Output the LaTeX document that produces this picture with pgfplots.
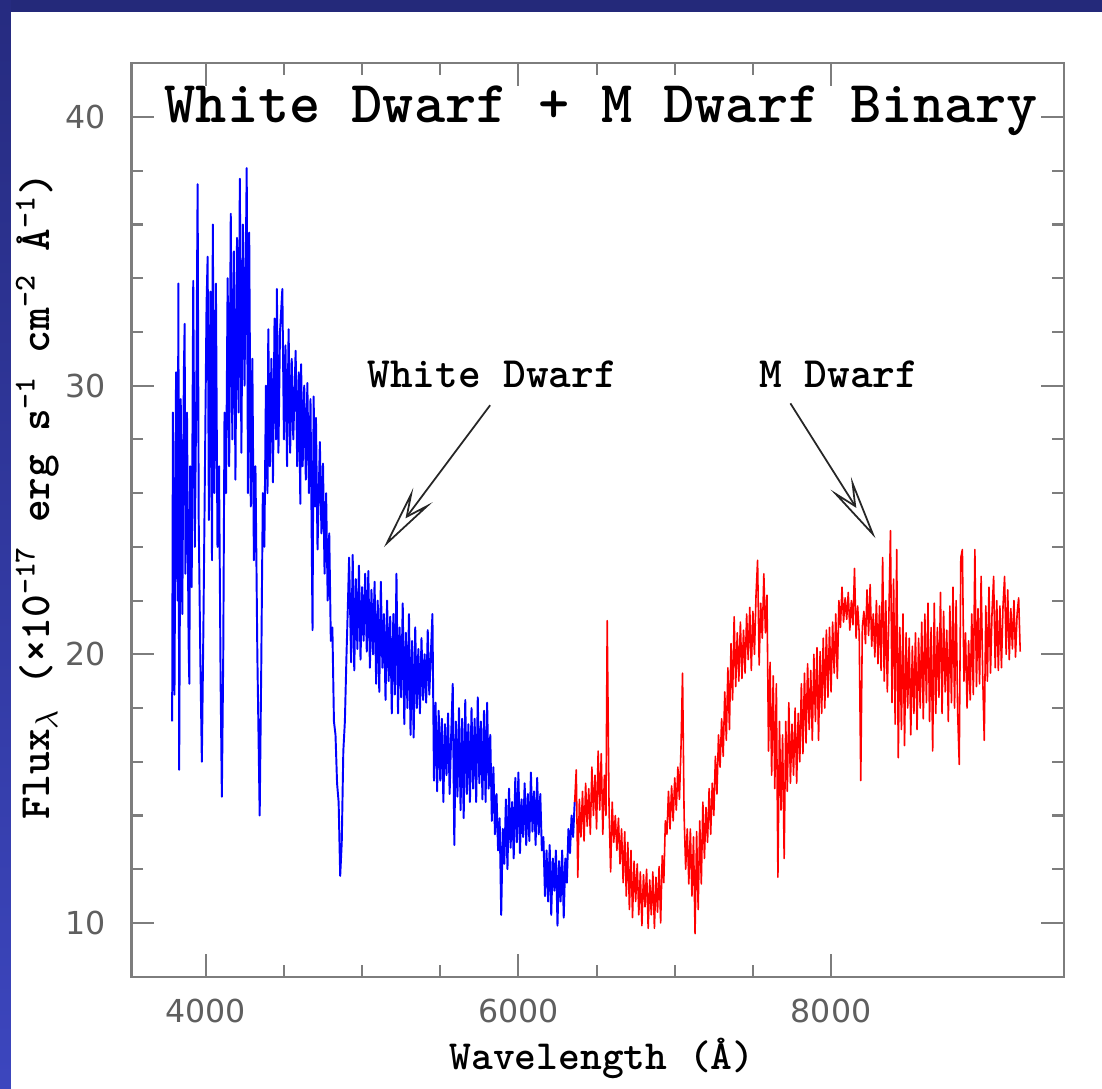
\documentclass[border=0pt]{standalone}
\usepackage{fontspec}
\newfontfamily\tickfont{DejaVu Sans}
\usepackage{pgfplots}
\pgfplotsset{compat=1.18}
\usetikzlibrary{arrows.meta}
\definecolor{framegray}{RGB}{125,125,125}
\definecolor{tickgray}{RGB}{95,95,95}
\definecolor{navy}{RGB}{36,41,122}
\definecolor{slidetop}{RGB}{38,43,128}
\definecolor{slidebot}{RGB}{60,70,190}
\newcommand\lab{\ttfamily\bfseries}

\begin{document}
\begin{tikzpicture}
% slide background
\fill[white] (-1.315,-1.123) rectangle (9.705,9.767);
\fill[navy] (-1.315,9.647) rectangle (9.705,9.767);
\shade[top color=slidetop, bottom color=slidebot] (-1.315,-1.123) rectangle (-1.205,9.767);

\begin{axis}[at={(0,0)}, anchor=south west, scale only axis,
  width=9.325cm, height=9.134cm,
  xmin=3525, xmax=9490, ymin=8, ymax=42,
  axis line style={framegray, line width=0.6pt},
  tick style={framegray, line width=0.6pt},
  major tick length=2.3mm, minor tick length=1.2mm,
  xtick={4000,6000,8000}, minor x tick num=3,
  ytick={10,20,30,40}, minor y tick num=4,
  scaled x ticks=false,
  /pgf/number format/set thousands separator={},
  /pgf/number format/assume math mode=true,
  tick label style={font=\tickfont\fontsize{9}{11}\selectfont, text=tickgray},
  xticklabel style={yshift=-0.95mm},
  yticklabel style={xshift=-1.3mm}]

% white dwarf part
\addplot[blue, line width=0.55pt, line join=round] coordinates {
(3785,17.5)(3790,29.0)(3800,18.5)(3810,30.5)(3820,22.0)(3825,33.8)(3830,15.7)(3840,29.5)(3850,21.5)(3860,30.5)
(3865,32.3)(3870,23.0)(3880,29.0)(3890,20.5)(3895,18.9)(3900,27.0)(3910,22.5)(3920,33.9)(3930,24.0)(3940,30.0)
(3948,37.5)(3955,25.0)(3965,20.0)(3975,16.0)(3985,21.0)(3995,27.0)(4005,33.0)(4012,34.8)(4020,25.0)(4030,33.5)
(4040,23.5)(4045,36.0)(4055,26.0)(4065,33.8)(4075,24.0)(4085,27.0)(4095,19.0)(4103,14.7)(4112,20.0)(4120,29.0)
(4130,26.0)(4140,34.0)(4150,27.0)(4160,36.4)(4170,28.0)(4180,35.0)(4190,26.5)(4200,35.5)(4210,29.0)(4218,37.7)
(4228,27.5)(4238,36.0)(4248,30.0)(4262,38.1)(4270,26.0)(4278,35.7)(4288,25.5)(4298,31.0)(4308,23.5)(4318,27.0)
(4330,20.0)(4345,14.0)(4355,19.5)(4365,26.0)(4375,24.0)(4385,30.0)(4395,26.0)(4400,32.1)(4410,27.0)(4420,31.0)
(4430,26.4)(4440,32.5)(4450,28.0)(4455,33.6)(4465,27.5)(4475,32.0)(4490,33.6)(4500,28.0)(4510,31.5)(4520,27.0)
(4530,32.1)(4540,27.5)(4550,31.0)(4560,28.0)(4575,31.3)(4585,27.0)(4595,30.5)(4605,25.6)(4610,30.8)(4620,27.0)
(4630,30.0)(4640,26.5)(4650,30.1)(4660,26.0)(4670,29.5)(4683,20.9)(4690,29.6)(4700,25.5)(4705,28.8)(4715,23.9)
(4730,27.9)(4740,24.5)(4750,27.1)(4760,23.0)(4770,26.0)(4780,22.0)(4790,24.5)(4800,20.5)(4810,21.0)(4820,17.5)
(4830,17.0)(4840,15.2)(4850,14.5)(4860,11.75)(4870,13.0)(4880,16.4)(4890,17.5)(4900,19.9)(4910,22.0)(4917,23.6)
(4930,19.7)(4940,23.7)(4950,19.4)(4960,22.8)(4970,20.2)(4980,23.3)(4990,19.8)(5000,22.5)(5010,20.5)(5020,23.0)
(5030,20.1)(5040,23.1)(5050,19.5)(5060,22.4)(5070,20.0)(5080,22.7)(5090,18.9)(5100,22.0)(5110,18.6)(5120,22.7)
(5130,19.5)(5140,21.5)(5150,18.3)(5160,22.0)(5170,19.0)(5180,21.4)(5190,17.8)(5200,21.5)(5210,18.5)(5220,23.0)
(5230,17.8)(5240,21.0)(5250,18.4)(5260,21.9)(5270,17.4)(5280,20.8)(5290,18.0)(5300,21.5)(5310,17.0)(5320,20.5)
(5330,16.9)(5340,21.0)(5350,18.0)(5360,20.2)(5370,17.8)(5380,20.6)(5390,18.3)(5400,20.0)(5410,18.2)(5420,20.9)
(5430,18.5)(5440,20.0)(5450,21.5)(5460,15.3)(5470,18.2)(5480,14.9)(5490,17.9)(5500,15.3)(5510,17.6)(5520,14.5)
(5530,17.4)(5540,15.5)(5550,17.8)(5560,14.8)(5570,17.0)(5580,18.9)(5590,12.9)(5600,17.5)(5610,14.7)(5620,18.0)
(5630,14.2)(5640,17.6)(5650,13.9)(5660,18.3)(5670,14.8)(5680,17.4)(5690,14.5)(5700,18.0)(5710,15.0)(5720,17.6)
(5730,14.5)(5740,18.4)(5750,15.2)(5760,17.5)(5770,14.6)(5780,17.9)(5790,14.5)(5800,18.2)(5810,15.0)(5820,17.0)
(5830,13.8)(5840,15.8)(5850,13.3)(5860,14.8)(5870,12.7)(5880,13.9)(5890,10.3)(5900,13.5)(5910,12.2)(5920,14.6)
(5930,12.0)(5940,15.0)(5950,12.8)(5960,14.5)(5970,12.4)(5980,15.4)(5990,13.0)(6000,15.6)(6010,12.6)(6020,14.6)
(6030,13.2)(6040,15.2)(6050,12.9)(6060,14.8)(6070,13.05)(6080,15.6)(6090,13.4)(6100,14.9)(6110,12.9)(6120,15.4)
(6130,13.3)(6140,14.8)(6150,12.7)(6160,13.2)(6170,11.0)(6180,12.7)(6190,10.8)(6200,12.9)(6210,10.3)(6220,12.4)
(6230,11.2)(6240,12.7)(6250,9.9)(6260,12.3)(6270,10.8)(6280,12.7)(6290,10.2)(6300,12.4)(6310,11.5)(6320,13.5)
(6330,12.6)(6340,14.0)(6350,13.2)(6360,14.5)
};

% M dwarf part
\addplot[red, line width=0.45pt, line join=round] coordinates {
(6360,14.5)(6370,15.7)(6380,11.7)(6390,14.6)(6400,13.2)(6410,14.9)(6420,13.05)(6430,15.2)(6440,13.6)(6450,15.0)
(6460,13.3)(6470,15.8)(6480,14.0)(6490,15.5)(6500,13.5)(6510,16.4)(6520,14.2)(6530,16.3)(6540,13.3)(6550,15.5)
(6560,14.0)(6568,21.25)(6580,14.2)(6590,11.9)(6600,14.5)(6610,13.0)(6620,14.0)(6630,12.7)(6640,13.9)(6650,12.2)
(6660,13.5)(6670,11.5)(6680,13.4)(6690,11.0)(6700,13.0)(6710,10.5)(6720,12.7)(6730,10.2)(6740,12.3)(6750,10.8)
(6760,12.2)(6770,10.3)(6780,11.9)(6790,9.9)(6800,11.8)(6810,10.6)(6820,12.0)(6830,9.8)(6840,11.6)(6850,10.3)
(6860,11.9)(6870,9.8)(6880,11.7)(6890,10.4)(6900,12.1)(6910,10.0)(6920,12.5)(6930,11.5)(6940,13.8)(6950,13.3)
(6960,14.9)(6970,13.5)(6980,15.1)(6990,13.8)(7000,15.4)(7010,14.2)(7020,15.8)(7030,14.6)(7040,16.5)(7050,19.3)
(7060,14.0)(7070,12.0)(7080,13.5)(7090,11.45)(7100,13.5)(7110,11.0)(7120,13.2)(7130,9.6)(7140,13.4)(7150,10.5)
(7160,13.8)(7170,11.45)(7180,14.5)(7190,12.4)(7200,14.3)(7210,13.0)(7220,15.0)(7230,13.3)(7240,15.2)(7250,14.0)
(7260,16.2)(7270,14.8)(7280,17.0)(7290,15.8)(7300,17.6)(7310,16.2)(7320,18.6)(7330,16.8)(7340,19.5)(7350,17.2)
(7360,20.4)(7370,18.3)(7380,21.4)(7390,18.8)(7400,20.8)(7410,19.0)(7420,21.2)(7430,19.1)(7440,20.9)(7450,19.3)
(7460,21.5)(7470,19.8)(7480,21.75)(7490,19.4)(7500,21.6)(7510,20.0)(7520,22.2)(7530,23.5)(7540,19.6)(7550,21.9)
(7560,20.6)(7570,23.0)(7580,20.8)(7590,22.2)(7600,16.4)(7610,19.7)(7620,15.5)(7630,19.2)(7640,15.0)(7650,18.9)
(7660,11.7)(7670,17.5)(7680,14.2)(7690,17.0)(7700,12.4)(7710,17.5)(7720,14.9)(7730,18.2)(7740,15.2)(7750,17.4)
(7760,15.5)(7770,18.0)(7780,15.2)(7790,17.8)(7800,16.0)(7810,18.9)(7820,16.3)(7830,19.3)(7840,16.7)(7850,19.65)
(7860,17.2)(7870,19.4)(7880,16.8)(7890,20.0)(7900,17.5)(7910,20.25)(7920,16.8)(7930,20.1)(7940,17.8)(7950,20.6)
(7960,18.0)(7970,20.9)(7980,18.4)(7990,21.0)(8000,18.6)(8010,21.2)(8020,19.3)(8030,21.5)(8040,19.1)(8050,22.0)
(8060,21.0)(8070,22.5)(8080,21.2)(8090,22.1)(8100,21.3)(8110,22.3)(8120,20.9)(8130,22.0)(8140,21.1)(8150,23.2)
(8160,20.6)(8170,21.8)(8180,20.8)(8190,15.3)(8200,21.0)(8210,21.6)(8220,20.4)(8230,22.4)(8240,20.7)(8250,22.6)
(8260,20.3)(8270,21.5)(8280,19.9)(8290,22.0)(8300,19.65)(8310,21.8)(8320,19.4)(8330,23.6)(8340,19.0)(8350,22.0)
(8360,18.6)(8370,21.5)(8380,24.6)(8390,18.2)(8400,22.8)(8410,17.4)(8420,23.9)(8430,16.15)(8440,21.0)(8450,17.2)
(8460,21.5)(8470,16.6)(8480,20.8)(8490,18.0)(8500,20.6)(8510,17.0)(8520,20.3)(8530,17.8)(8540,20.8)(8550,17.2)
(8560,20.6)(8570,18.0)(8580,21.2)(8590,17.6)(8600,21.5)(8610,18.2)(8620,21.9)(8630,17.5)(8640,21.0)(8650,16.4)
(8660,21.9)(8670,17.8)(8680,21.0)(8690,18.4)(8700,22.3)(8710,17.8)(8720,21.6)(8730,18.6)(8740,20.9)(8750,17.5)
(8760,21.8)(8770,18.2)(8780,22.5)(8790,18.0)(8800,22.0)(8810,17.8)(8820,15.9)(8830,23.6)(8840,23.9)(8850,19.0)
(8860,20.8)(8870,18.0)(8880,20.5)(8890,18.3)(8900,21.5)(8910,18.5)(8920,23.9)(8930,18.8)(8940,21.7)(8950,18.9)
(8960,22.9)(8970,19.2)(8980,16.8)(8990,21.8)(9000,19.0)(9010,22.5)(9020,19.3)(9030,21.6)(9040,22.9)(9050,19.5)
(9060,22.0)(9070,19.4)(9080,21.8)(9090,19.5)(9100,21.8)(9110,22.9)(9120,20.0)(9130,22.4)(9140,19.8)(9150,21.7)
(9160,20.2)(9170,22.0)(9180,19.9)(9190,21.5)(9200,22.1)(9210,20.1)
};

\node[anchor=base, font=\fontsize{16.9}{19}\selectfont\lab] at (axis cs:6530,39.81) {White Dwarf + M Dwarf Binary};
\node[anchor=base, font=\fontsize{12.3}{14}\selectfont\lab] at (axis cs:5832,29.94) {White Dwarf};
\node[anchor=base, font=\fontsize{12.3}{14}\selectfont\lab] at (axis cs:8050,29.94) {M Dwarf};
\draw[black!85, line width=0.5pt, -{Stealth[open, length=6.5mm, width=2.4mm, inset=2.5mm]}]
  (axis cs:5819,29.27) -- (axis cs:5140,23.99);
\draw[black!85, line width=0.5pt, -{Stealth[open, length=6.5mm, width=2.4mm, inset=2.5mm]}]
  (axis cs:7740,29.34) -- (axis cs:8284,24.32);
\end{axis}

% axis titles
\node[anchor=base, font=\fontsize{11.8}{14}\selectfont\lab] at (4.705,-0.93) {Wavelength (Å)};
\node[anchor=base, rotate=90, font=\fontsize{12.3}{14}\selectfont\lab] at (-0.815,4.805)
  {Flux$_\lambda$ (×10\textsuperscript{-17} erg s\textsuperscript{-1} cm\textsuperscript{-2} Å\textsuperscript{-1})};

\pgfresetboundingbox
\useasboundingbox (-1.315,-1.123) rectangle (9.705,9.767);
\end{tikzpicture}
\end{document}
